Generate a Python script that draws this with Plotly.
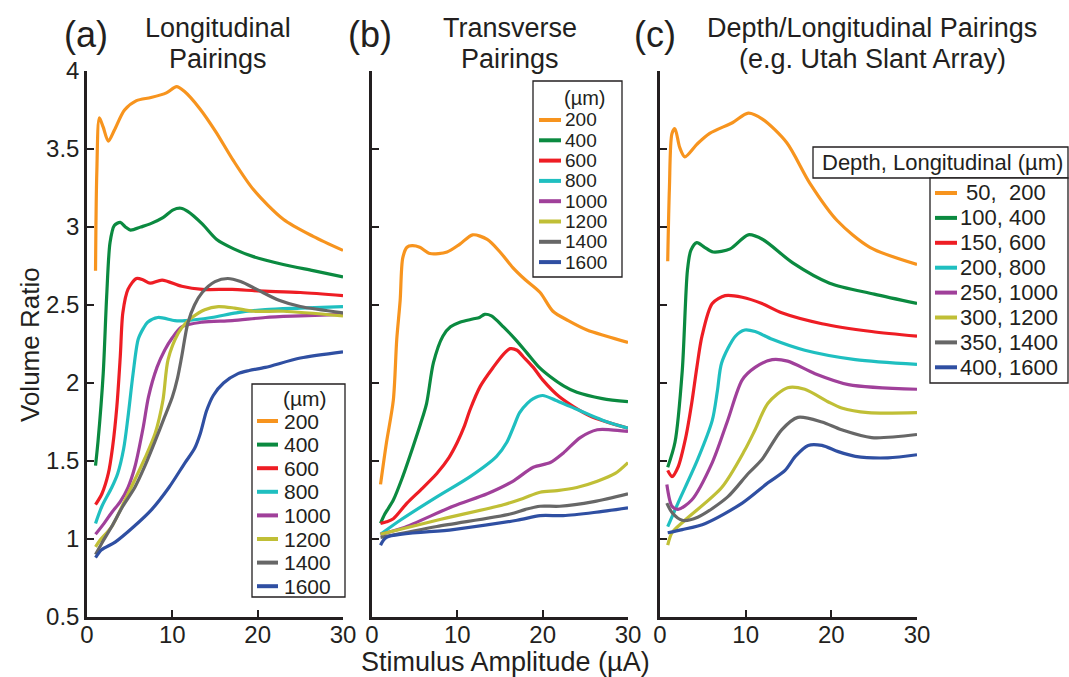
import plotly.graph_objects as go

W, H = 1069, 677
FONT = "Liberation Sans, Arial, sans-serif"
TXT = "#231f20"

COLORS = ["#f7941e", "#0b8a40", "#ee1d24", "#1fbfc0", "#a0409a", "#c0bf36", "#676767", "#2f4fa2"]
LABELS_AB = ["200", "400", "600", "800", "1000", "1200", "1400", "1600"]
LABELS_C = [" 50,  200", "100, 400", "150, 600", "200, 800", "250, 1000", "300, 1200", "350, 1400", "400, 1600"]

X_TICKS = [0, 10, 20, 30]
Y_TICKS = [0.5, 1, 1.5, 2, 2.5, 3, 3.5, 4]
Y_TICKTEXT = ["0.5", "1", "1.5", "2", "2.5", "3", "3.5", "4"]

# ---- Panel (a) Longitudinal pairings ----
A_X = [
    [1, 1.15, 1.45, 1.9, 2.5, 3.2, 4.4, 5.8, 7.5, 9.3, 10.5, 11.4, 13.2, 15.1, 17.1, 19.5, 23, 26.5, 30],
    [1, 1.3, 1.9, 2.3, 2.7, 3.2, 3.9, 4.5, 5.1, 6.3, 7.4, 8.9, 10.1, 11.0, 11.8, 13.5, 15.2, 17.2, 19.5, 23, 26.5, 30],
    [1, 1.75, 2.5, 3.0, 3.5, 3.9, 4.2, 4.8, 5.8, 6.6, 7.4, 8.8, 11.1, 13.5, 17, 20, 25, 30],
    [1, 1.75, 2.9, 3.6, 4.3, 4.8, 5.4, 6.0, 6.6, 7.1, 8.3, 10.3, 11.5, 14.6, 17.5, 20.9, 25, 30],
    [1, 2.0, 2.9, 3.9, 4.8, 5.6, 6.6, 7.2, 8.2, 9.1, 10, 11.1, 13.5, 17, 20.9, 25, 30],
    [1, 1.5, 2.9, 4.2, 5.6, 6.8, 8.0, 8.9, 9.5, 10.7, 11.5, 12.3, 13.8, 15.4, 17.3, 19.5, 23, 30],
    [1, 1.7, 2.9, 4.2, 5.6, 6.8, 8.0, 9.0, 10, 10.6, 11.1, 11.8, 12.6, 13.5, 15, 16.5, 18, 19.9, 22.5, 25, 30],
    [1, 1.7, 3.3, 5.5, 7.6, 9.6, 11.5, 12.6, 13.3, 14.0, 14.8, 16, 17.7, 19, 20.9, 25, 30],
]
A_Y = [
    [2.72, 3.35, 3.70, 3.64, 3.55, 3.62, 3.75, 3.81, 3.83, 3.86, 3.90, 3.87, 3.76, 3.61, 3.43, 3.24, 3.05, 2.94, 2.85],
    [1.47, 1.63, 2.06, 2.55, 2.90, 3.01, 3.03, 3.00, 2.98, 3.00, 3.02, 3.06, 3.11, 3.12, 3.10, 3.02, 2.92, 2.86, 2.81, 2.76, 2.72, 2.68],
    [1.22, 1.29, 1.42, 1.59, 1.85, 2.17, 2.45, 2.60, 2.67, 2.66, 2.64, 2.66, 2.62, 2.60, 2.60, 2.59, 2.58, 2.56],
    [1.10, 1.21, 1.33, 1.42, 1.58, 1.78, 2.06, 2.28, 2.35, 2.39, 2.42, 2.40, 2.40, 2.42, 2.45, 2.47, 2.48, 2.49],
    [1.03, 1.10, 1.17, 1.24, 1.33, 1.46, 1.72, 1.91, 2.10, 2.21, 2.29, 2.36, 2.39, 2.40, 2.42, 2.43, 2.44],
    [0.95, 0.99, 1.08, 1.22, 1.38, 1.52, 1.68, 1.89, 2.15, 2.32, 2.38, 2.42, 2.47, 2.49, 2.48, 2.46, 2.46, 2.43],
    [0.90, 0.97, 1.08, 1.21, 1.33, 1.47, 1.63, 1.77, 1.91, 2.03, 2.17, 2.38, 2.50, 2.58, 2.65, 2.67, 2.65, 2.60, 2.53, 2.49, 2.45],
    [0.88, 0.93, 0.98, 1.08, 1.19, 1.33, 1.49, 1.58, 1.68, 1.82, 1.92, 2.00, 2.06, 2.08, 2.10, 2.16, 2.20],
]

# ---- Panel (b) Transverse pairings ----
B_X = [
    [1, 1.7, 2.5, 2.9, 3.3, 3.6, 4.1, 4.7, 5.6, 6.8, 8.8, 10.3, 11.8, 13.5, 15, 16.5, 18, 19.7, 21.2, 23, 25.2, 27.5, 30],
    [1, 1.5, 2.5, 3.6, 4.8, 5.7, 6.4, 7.2, 8.3, 9.2, 10.3, 11.8, 12.6, 13.2, 14.0, 15.4, 16.8, 18.2, 19.6, 20.9, 22.5, 24, 27, 30],
    [1, 1.7, 2.5, 4.1, 5.8, 7.6, 9.0, 10, 10.8, 11.5, 12.7, 14.2, 15.5, 16.2, 17.0, 17.7, 18.9, 20, 22, 25.5, 30],
    [1, 3.3, 7.6, 11.5, 14.6, 15.8, 16.6, 17.3, 18.2, 18.9, 20, 21.5, 23.2, 27.1, 30],
    [1, 3.6, 9.5, 13.5, 16.5, 18.9, 20.9, 22.4, 24.4, 26.4, 28, 30],
    [1, 7.6, 15.4, 17.7, 19.7, 21.7, 24, 26.4, 28.5, 30],
    [1, 7.6, 16.2, 18, 19.7, 22, 26, 30],
    [1, 1.7, 9.5, 17, 19.7, 22.4, 26, 30],
]
B_Y = [
    [1.35, 1.62, 1.89, 2.28, 2.53, 2.80, 2.87, 2.88, 2.87, 2.83, 2.84, 2.89, 2.95, 2.92, 2.84, 2.74, 2.66, 2.58, 2.46, 2.40, 2.34, 2.30, 2.26],
    [1.10, 1.16, 1.25, 1.40, 1.59, 1.74, 1.87, 2.13, 2.30, 2.36, 2.39, 2.41, 2.42, 2.44, 2.43, 2.36, 2.28, 2.19, 2.10, 2.04, 1.98, 1.94, 1.90, 1.88],
    [1.10, 1.11, 1.13, 1.23, 1.32, 1.42, 1.52, 1.62, 1.72, 1.83, 1.98, 2.10, 2.19, 2.22, 2.21, 2.17, 2.10, 2.02, 1.91, 1.79, 1.71],
    [1.03, 1.12, 1.27, 1.40, 1.53, 1.62, 1.72, 1.81, 1.87, 1.90, 1.92, 1.89, 1.85, 1.76, 1.71],
    [1.03, 1.07, 1.21, 1.29, 1.37, 1.46, 1.49, 1.55, 1.65, 1.70, 1.70, 1.69],
    [1.03, 1.12, 1.22, 1.26, 1.30, 1.31, 1.33, 1.37, 1.42, 1.49],
    [1.01, 1.08, 1.16, 1.19, 1.21, 1.21, 1.24, 1.29],
    [0.96, 1.01, 1.06, 1.12, 1.15, 1.15, 1.17, 1.20],
]

# ---- Panel (c) Depth/Longitudinal pairings ----
C_X = [
    [0.9, 1.1, 1.4, 1.75, 2.3, 2.9, 4.3, 5.8, 8.5, 10.3, 12, 14.8, 17.5, 20.7, 24.5, 30],
    [0.9, 1.75, 2.6, 3.2, 3.6, 4.3, 5.2, 6.2, 8.2, 10.3, 12, 15.5, 19.8, 25, 30],
    [0.9, 1.4, 2.1, 3.0, 3.7, 4.3, 4.9, 6.1, 7.6, 9.6, 11.9, 14.2, 18.9, 24.7, 30],
    [0.9, 2.1, 4.4, 6.1, 6.7, 7.2, 8.8, 9.9, 11.1, 13.1, 16.9, 22.8, 30],
    [0.8, 1.4, 2.1, 3.7, 6.1, 7.9, 9.6, 11.1, 13.1, 14.9, 18.1, 22, 30],
    [0.9, 1.4, 2.9, 7.2, 9.9, 11.1, 12.6, 14.9, 16.9, 19.6, 21.2, 24.3, 30],
    [0.8, 1.4, 2.6, 4.4, 7.9, 10.3, 11.9, 14.2, 16.1, 18.9, 21.2, 24.7, 30],
    [0.9, 2.6, 5.3, 9.6, 12.6, 14.6, 15.8, 17.3, 18.9, 20.8, 22.8, 26.6, 30],
]
C_Y = [
    [2.78, 3.25, 3.60, 3.63, 3.51, 3.45, 3.53, 3.60, 3.67, 3.73, 3.69, 3.54, 3.28, 3.04, 2.87, 2.76],
    [1.46, 1.62, 2.08, 2.72, 2.85, 2.90, 2.87, 2.84, 2.86, 2.95, 2.92, 2.77, 2.64, 2.57, 2.51],
    [1.44, 1.40, 1.46, 1.65, 1.87, 2.10, 2.30, 2.51, 2.56, 2.55, 2.51, 2.45, 2.38, 2.33, 2.30],
    [1.08, 1.23, 1.51, 1.76, 1.95, 2.13, 2.30, 2.34, 2.33, 2.28, 2.21, 2.15, 2.12],
    [1.35, 1.21, 1.19, 1.25, 1.49, 1.76, 2.02, 2.10, 2.15, 2.14, 2.06, 1.99, 1.96],
    [0.96, 1.04, 1.12, 1.33, 1.57, 1.70, 1.87, 1.97, 1.96, 1.88, 1.84, 1.81, 1.81],
    [1.23, 1.17, 1.12, 1.14, 1.27, 1.42, 1.51, 1.70, 1.78, 1.75, 1.70, 1.65, 1.67],
    [1.04, 1.06, 1.10, 1.23, 1.36, 1.44, 1.53, 1.60, 1.60, 1.56, 1.53, 1.52, 1.54],
]


def px(x):
    return x / W


def py(y):
    return 1 - y / H


fig = go.Figure()
for (xs, ys, xa, ya) in [(A_X, A_Y, "x", "y"), (B_X, B_Y, "x2", "y2"), (C_X, C_Y, "x3", "y3")]:
    for i in range(len(xs)):
        fig.add_trace(go.Scatter(
            x=xs[i], y=ys[i], mode="lines", xaxis=xa, yaxis=ya, showlegend=False,
            line=dict(color=COLORS[i], width=3.2, shape="spline", smoothing=0.8),
        ))

ax_common = dict(
    showline=True, linecolor="#231f20", linewidth=2.5, ticks="inside", ticklen=7,
    tickwidth=2, tickcolor="#231f20", showgrid=False, zeroline=False, automargin=False,
    tickfont=dict(family=FONT, size=24, color=TXT),
)
y_dom = [py(617), py(71)]
x_doms = [[px(87), px(343)], [px(372), px(628)], [px(660), px(917)]]

layout = dict(
    width=W, height=H, margin=dict(l=0, r=0, t=0, b=0, autoexpand=False),
    paper_bgcolor="white", plot_bgcolor="white", showlegend=False,
)
for k, suffix in enumerate(["", "2", "3"]):
    layout["xaxis" + suffix] = dict(ax_common, domain=x_doms[k], range=[0, 30], tickvals=X_TICKS,
                                    anchor="y" + suffix, ticklabelstandoff=-6)
    layout["yaxis" + suffix] = dict(ax_common, domain=y_dom, range=[0.5, 4], tickvals=Y_TICKS,
                                    ticktext=Y_TICKTEXT, anchor="x" + suffix,
                                    showticklabels=(k == 0))
fig.update_layout(**layout)

ann = []
shapes = []


def text(x, y, s, size, xanchor="center", angle=0):
    ann.append(dict(x=px(x), y=py(y), xref="paper", yref="paper", text=s, showarrow=False,
                    xanchor=xanchor, yanchor="middle", textangle=angle,
                    font=dict(family=FONT, size=size, color=TXT)))


# panel titles
text(86, 35, "(a)", 36)
text(218, 28, "Longitudinal", 27)
text(218, 59, "Pairings", 27)
text(370, 35, "(b)", 36)
text(510, 28, "Transverse", 27)
text(510, 59, "Pairings", 27)
text(655, 35, "(c)", 36)
text(872, 28, "Depth/Longitudinal Pairings", 27)
text(872, 59, "(e.g. Utah Slant Array)", 27)
# axis titles
text(505, 662, "Stimulus Amplitude (µA)", 27)
text(30, 345, "Volume Ratio", 26, angle=-90)


def rect(x0, y0, x1, y1):
    shapes.append(dict(type="rect", xref="paper", yref="paper", x0=px(x0), x1=px(x1),
                       y0=py(y1), y1=py(y0), line=dict(color="#231f20", width=1.3),
                       fillcolor="white", layer="above"))


def legend(labels, y0, dy, lx0, lx1, tx, size):
    for i, lab in enumerate(labels):
        y = y0 + i * dy
        shapes.append(dict(type="line", xref="paper", yref="paper", x0=px(lx0), x1=px(lx1),
                           y0=py(y), y1=py(y), line=dict(color=COLORS[i], width=4), layer="above"))
        text(tx, y, lab.replace(" ", "\u00a0"), size, xanchor="left")


# legend (a)
rect(252, 384, 345, 597)
text(305, 398, "(µm)", 21)
legend(LABELS_AB, 421, 23.6, 257, 278, 282, 21)
# legend (b)
rect(533, 81, 622, 277)
text(585, 98, "(µm)", 20)
legend(LABELS_AB, 120, 20.3, 539, 561, 563, 19)
# legend (c)
rect(813, 147, 1068, 178)
text(942, 163, "Depth, Longitudinal (µm)", 22)
rect(930, 178, 1068, 383)
legend(LABELS_C, 193, 24.9, 935, 957, 958, 22)

fig.update_layout(annotations=ann, shapes=shapes)
fig.write_html("out.html")
